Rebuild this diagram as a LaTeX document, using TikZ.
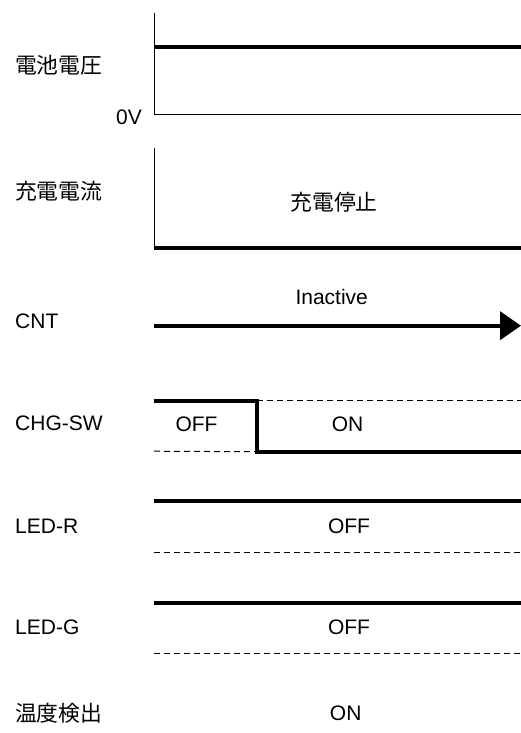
\documentclass[tikz,border=0pt]{standalone}
\usepackage{fontspec}
\setmainfont{Liberation Sans}
\newfontfamily\jpfont{Noto Sans CJK JP}
\usetikzlibrary{arrows.meta}

\begin{document}
\begin{tikzpicture}[x=1pt, y=-1pt,
  sig/.style={font=\fontsize{21}{24}\selectfont, inner sep=0pt, anchor=west},
  jsig/.style={font=\fontsize{21.8}{24}\jpfont, inner sep=0pt, anchor=west},
  val/.style={font=\fontsize{21}{24}\selectfont, inner sep=0pt},
  jval/.style={font=\fontsize{21.8}{24}\jpfont, inner sep=0pt},
  level/.style={line width=4pt},
  axis/.style={line width=1.3pt},
  lo/.style={line width=1pt, dash pattern=on 6pt off 4pt},
  arr/.style={-{Triangle[length=21pt,width=28pt]}, line width=4pt},
]
\useasboundingbox (0,0) rectangle (521,733);

% ─── 電池電圧 ───
\node[jsig] (vbat) at (15,65.7) {電池電圧};
\node[val, anchor=east] (zero) at (142,117) {0V};
\draw[axis] (154.3,12.7) -- (154.3,115);
\draw[axis] (154.3,114.5) -- (521,114.5);
\draw[level] (154.3,47.3) -- (521,47.3);

% ─── 充電電流 ───
\node[jsig] (ichg) at (15,191.7) {充電電流};
\node[jval] (stop) at (334,202.7) {充電停止};
\draw[axis] (154.3,147.7) -- (154.3,248.3);
\draw[level] (153.6,247.5) -- (521,247.5);

% ─── CNT ───
\node[sig] (cnt) at (15,321.7) {CNT};
\node[val] (inact) at (331.7,296.7) {Inactive};
\coordinate (c0) at (154,325.7);
\coordinate (c1) at (521,325.7);
\draw[arr] (c0) -- (c1);

% ─── CHG-SW ───
\node[sig] (chgsw) at (15,423.7) {CHG-SW};
\node[val] (swoff) at (196.5,424) {OFF};
\node[val] (swon) at (347.5,424) {ON};
\coordinate (s0) at (154,400.7);
\coordinate (s1) at (256.7,400.7);
\coordinate (s2) at (256.7,451.7);
\coordinate (s3) at (521,451.7);
\draw[level, line join=miter] (s0) -- (s1) -- (s2) -- (s3);
\draw[lo] (s1) -- (521,400.7);
\draw[lo] (154,451.2) -- (s2);

% ─── LED-R ───
\node[sig] (ledr) at (15,526.7) {LED-R};
\node[val] (roff) at (349,526) {OFF};
\draw[level] (154,501) -- (521,501);
\draw[lo] (154,552.7) -- (521,552.7);

% ─── LED-G ───
\node[sig] (ledg) at (15,627.7) {LED-G};
\node[val] (goff) at (349,627.7) {OFF};
\draw[level] (154,602.7) -- (521,602.7);
\draw[lo] (154,653.3) -- (521,653.3);

% ─── 温度検出 ───
\node[jsig] (temp) at (15,713) {温度検出};
\node[val] (ton) at (345.7,713) {ON};

\end{tikzpicture}
\end{document}
